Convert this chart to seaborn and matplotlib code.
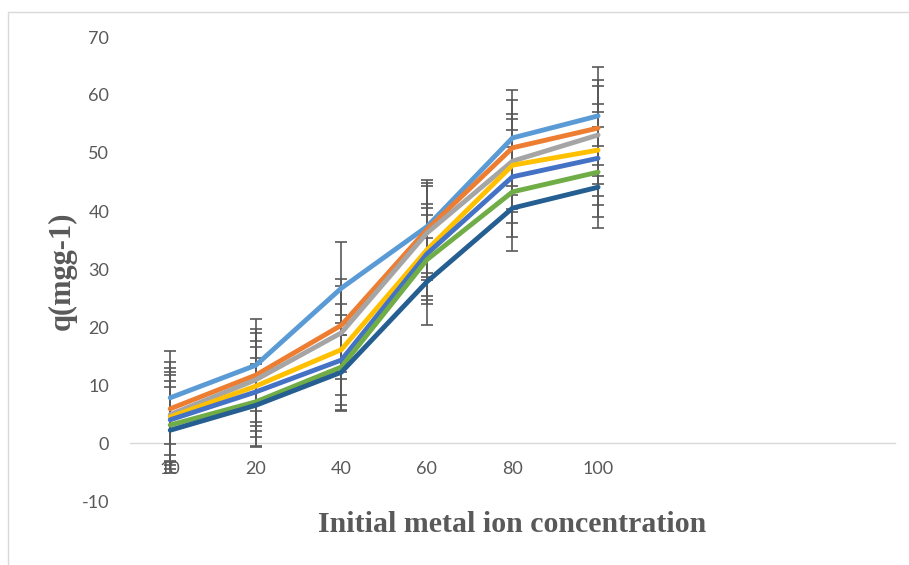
import matplotlib
matplotlib.use("Agg")
import matplotlib.pyplot as plt
import seaborn as sns
import pandas as pd
import numpy as np
from matplotlib.patches import Rectangle

# ---- data ----
x_labels = ["10", "20", "40", "60", "80", "100"]
series_names = ["S1", "S2", "S3", "S4", "S5", "S6", "S7"]
light_blue = [7.8, 13.4, 26.7, 37.3, 52.6, 56.4]
orange = [5.9, 11.7, 20.3, 36.8, 50.9, 54.3]
gray = [4.9, 10.9, 19.0, 36.2, 48.6, 53.1]
yellow = [4.5, 9.8, 16.1, 33.3, 47.9, 50.5]
blue = [4.0, 8.8, 14.3, 32.6, 45.9, 49.1]
green = [3.1, 7.1, 13.1, 31.6, 43.3, 46.7]
dark_blue = [2.2, 6.5, 12.2, 27.8, 40.5, 44.1]

err_light_blue = [8.0, 7.9, 8.0, 8.0, 8.3, 8.4]
err_orange = [8.0, 8.0, 8.0, 8.1, 8.2, 8.2]
err_gray = [8.0, 8.0, 8.0, 8.1, 8.2, 8.4]
err_yellow = [7.8, 7.8, 7.8, 7.9, 8.0, 8.0]
err_blue = [7.8, 7.8, 7.8, 7.9, 8.0, 8.0]
err_green = [7.6, 7.6, 7.6, 7.7, 7.7, 7.7]
err_dark_blue = [7.4, 7.2, 6.5, 7.5, 7.4, 7.1]

colors = ["#5B9BD5", "#ED7D31", "#A5A5A5", "#FFC000", "#4472C4", "#70AD47", "#255E91"]
values = [light_blue, orange, gray, yellow, blue, green, dark_blue]
errors = [err_light_blue, err_orange, err_gray, err_yellow, err_blue, err_green, err_dark_blue]

rows = []
for name, vals in zip(series_names, values):
    for i, v in enumerate(vals):
        rows.append({"pos": i, "q": v, "series": name})
df = pd.DataFrame(rows)

sns.set_style("white")
plt.rcParams["font.family"] = ["Lato", "DejaVu Sans"]
plt.rcParams["axes.unicode_minus"] = False

fig = plt.figure(figsize=(9.09, 5.65), dpi=100)
ax = fig.add_axes([130 / 909, 1 - 501 / 565, (895 - 130) / 909, (501 - 37) / 565])

# outer chart border (partially visible)
fig.patches.append(Rectangle((8 / 909, -0.01), 1.0, 1 - 12 / 565 + 0.01,
                             transform=fig.transFigure, fill=False,
                             edgecolor="#D9D9D9", linewidth=1.0))

# error bars (behind lines)
for vals, errs in zip(values, errors):
    ax.errorbar(range(len(vals)), vals, yerr=errs, fmt="none",
                ecolor="#595959", elinewidth=1.2, capsize=4.5, capthick=1.2, zorder=2)

sns.lineplot(data=df, x="pos", y="q", hue="series", palette=colors,
             linewidth=3.5, legend=False, ax=ax, zorder=3)

ax.set_xlim(-0.47, 8.47)
ax.set_ylim(-10, 70)
ax.set_yticks(np.arange(-10, 71, 10))
ax.set_xticks(range(len(x_labels)))
ax.set_xticklabels(x_labels)

for s in ["top", "right", "left"]:
    ax.spines[s].set_visible(False)
ax.spines["bottom"].set_position(("data", 0))
ax.spines["bottom"].set_color("#D9D9D9")
ax.spines["bottom"].set_linewidth(1.0)
ax.spines["bottom"].set_zorder(1)

ax.tick_params(axis="y", length=0, pad=15, labelsize=13, labelcolor="#595959")
ax.tick_params(axis="x", length=0, pad=13, labelsize=13, labelcolor="#595959")

ax.set_xlabel("")
ax.set_ylabel("")
fig.text(512.5 / 909, 1 - 524 / 565, "Initial metal ion concentration",
         ha="center", va="center", fontsize=21.5, fontweight="bold",
         family=["Liberation Serif"], color="#595959")
fig.text(62 / 909, 1 - 271 / 565, "q(mgg-1)", rotation=90,
         ha="center", va="center", fontsize=22, fontweight="bold",
         family=["Liberation Serif"], color="#595959")

fig.savefig("out.png", dpi=100)
